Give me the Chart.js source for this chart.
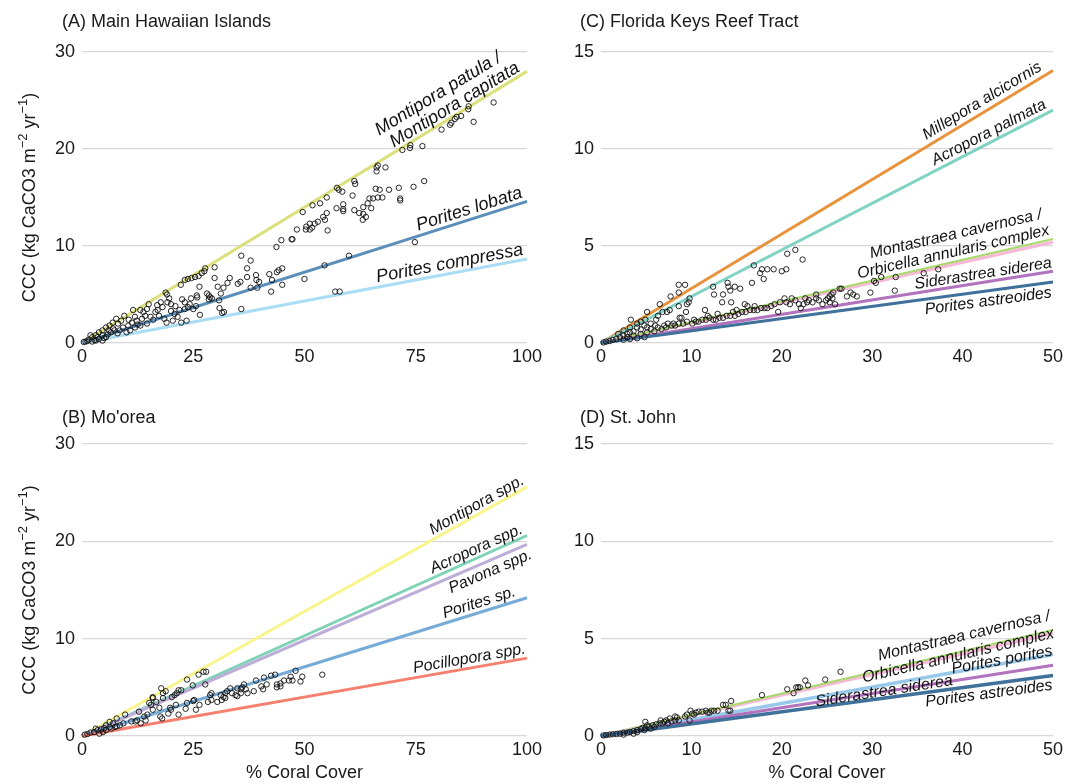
<!DOCTYPE html>
<html>
<head>
<meta charset="utf-8">
<script src="https://cdn.jsdelivr.net/npm/chart.js@4.4.1/dist/chart.umd.min.js"></script>
<style>
  html, body { margin: 0; padding: 0; background: #fff; }
  #wrap { position: relative; width: 1070px; height: 784px; background: #fff; }
  canvas { position: absolute; }
</style>
</head>
<body>
<div id="wrap">
  <canvas id="pA" width="545" height="392" style="left:0;top:0"></canvas>
  <canvas id="pC" width="525" height="392" style="left:545px;top:0"></canvas>
  <canvas id="pB" width="545" height="392" style="left:0;top:392px"></canvas>
  <canvas id="pD" width="525" height="392" style="left:545px;top:392px"></canvas>
</div>
<script>
// ---- data ----
// (A) Main Hawaiian Islands : % coral cover vs CCC
const mhiSpecies = ['Montipora patula / Montipora capitata', 'Porites lobata', 'Porites compressa'];
const mhiLineEnd = [28.0, 14.6, 8.65];   // CCC at 100 % cover
const mhiPoints = [
  [92.5,24.8],[88,22.8],[86.9,24.4],[86.8,24.1],[85.2,23.4],[84.2,23.3],[83.8,23.1],[83,22.7],[82.7,22.5],[80.8,22.0],
  [76.5,20.3],[76.9,16.7],[73.8,20.4],[73.7,20.1],[72,19.9],[74.5,16.1],[74.8,10.4],[71.2,16.0],[71.5,14.9],[71.5,14.7],
  [69,15.8],[68.2,18.1],[66.5,18.3],[66.2,18.1],[66.2,17.7],[66.9,15.8],[66,15.9],[67.5,15.0],[66.5,15.0],[65.4,14.9],
  [64.6,14.9],[65,13.9],[64.2,14.4],[63.2,14.0],[63.2,13.3],[63.8,13.0],[63.1,12.7],[62.3,13.4],[61.2,16.7],[61.4,16.4],
  [60.8,15.2],[61.2,13.7],[60,9.0],[57.7,15.8],[57.3,16.0],[58.5,15.6],[58.7,14.3],[58.7,13.8],[58.7,13.6],[57.2,13.9],
  [56.9,5.3],[57.9,5.3],[55,15.0],[55,13.4],[54.2,13.0],[54.6,12.7],[55.2,11.6],[54.5,8.0],[53.5,14.4],[51.8,14.2],
  [49.6,13.5],[53,12.5],[52.3,12.3],[51.2,12.3],[50.4,12.0],[51.2,11.7],[50.3,11.7],[51.7,11.9],[48.3,11.7],[47.3,10.7],
  [47.1,10.7],[44.8,10.6],[43.7,9.9],[50,6.6],[45,7.7],[44.2,7.5],[43.8,7.3],[45,6.0],[42.7,6.5],[42.5,5.3],
  [42.1,7.1],[37.9,8.5],[35.8,9.0],[37.1,7.7],[39.1,7.0],[39.8,6.3],[39.2,6.5],[37.1,6.8],[39.4,5.7],[37.9,5.7],
  [35,6.1],[35.6,6.3],[35.8,3.5],[33.2,6.7],[29.8,7.8],[29.8,6.7],[32.7,6.2],[31.8,5.7],[30.5,5.8],[31.2,5.1],
  [31.5,3.1],[31.9,3.2],[30.9,3.6],[30.8,4.4],[27.7,7.7],[27.5,7.4],[26.9,7.2],[26.2,6.9],[25.4,6.8],[24.6,6.7],
  [23.8,6.6],[23.1,6.5],[22.2,6.0],[26.4,5.8],[25.8,4.9],[25.9,4.7],[25.6,3.8],[26.5,2.9],[23.5,2.3],[22.3,2.1],
  [28.5,4.9],[28.8,4.7],[29.2,4.6],[28.1,5.1],[28.5,4.5],[18.8,5.2],[19.1,5.0],[19.6,4.6],[19.2,4.2],[20,4.0],
  [17.7,4.2],[16.9,3.9],[18.1,3.7],[16.5,3.2],[17.3,2.8],[18.5,2.5],[20.4,2.3],[21.5,2.7],[20.8,3.0],[21.9,3.4],
  [23.1,3.5],[24.2,4.0],[23.8,3.7],[23.1,4.2],[15,4.0],[14.6,3.5],[13.8,3.2],[13.1,3.4],[14.2,2.8],[15.4,2.7],
  [13.5,2.5],[12.3,2.3],[11.5,3.4],[11.9,2.7],[11.2,2.1],[10.4,1.8],[10,1.1],[10.8,1.3],[11.9,1.6],[13.1,1.8],
  [14.6,2.0],[9.2,1.6],[8.5,1.3],[8.1,2.0],[8.8,2.3],[7.7,2.5],[6.9,2.1],[6.2,1.8],[5.4,1.6],[4.6,1.3],
  [3.8,1.1],[3.1,0.8],[2.3,0.6],[1.5,0.35],[0.8,0.15],[0.4,0.1],[3.8,0.4],[4.6,0.8],[5.8,0.9],[6.5,1.1],
  [7.3,1.3],[3.1,0.25],[2.3,0.15],[1.9,0.8],[4.6,0.25],[5.4,0.6],[21,3.8],[22.5,4.5],[24.5,4.6],[25,3.5],
  [20,3.3],[17,3.4],[16,2.4],[19,2.1],[9.5,2.8],[10.5,2.4],[12.5,1.9],[7,1.5],[6,1.3],[8,1.0],
  [5,0.5],[2.8,0.3],[3.5,0.6],[1.2,0.2]
];

// (B) Mo'orea
const mooSpecies = ['Montipora spp.', 'Acropora spp.', 'Pavona spp.', 'Porites sp.', 'Pocillopora spp.'];
const mooLineEnd = [25.6, 20.6, 19.7, 14.2, 8.0];
const mooPoints = [
  [54,6.3],[48,6.7],[49.5,6.1],[49.1,5.6],[46.9,6.1],[47.3,5.7],[46.5,5.7],[45.4,5.7],[44.6,5.4],[43.8,5.3],
  [43.8,5.0],[44.6,5.1],[43.4,6.3],[42.5,6.2],[40.9,6.0],[39.1,5.7],[41.5,5.3],[40.7,4.8],[40.3,5.1],[38.6,4.6],
  [36.4,5.3],[36.0,5.0],[35.7,4.8],[36.8,4.8],[34.9,4.9],[37.2,4.4],[35.7,4.4],[34.9,4.1],[34.5,4.2],[33.7,4.4],
  [33.3,4.9],[32.6,4.6],[32.2,4.4],[31.8,4.0],[32.2,3.9],[31.4,3.7],[30.4,3.5],[29.1,3.7],[28.3,3.5],[28.8,4.2],
  [29.1,4.4],[31.2,4.2],[27.9,6.6],[27.3,6.6],[26.2,6.3],[27.7,5.3],[23.6,5.8],[24.9,5.2],[26.4,3.2],[25.6,2.7],
  [25.0,3.6],[25.2,3.7],[23.3,2.8],[23.6,3.4],[21.7,4.7],[22.3,4.7],[21.3,4.4],[20.8,4.2],[20.2,4.0],[21.1,3.2],
  [19.8,2.9],[20.0,2.7],[21.7,2.2],[19.4,2.3],[17.6,2.0],[18,1.8],[18.8,4.6],[18.2,4.4],[18.2,3.9],[15.9,4.0],
  [15.9,3.9],[16.7,3.5],[15.5,3.2],[15.9,2.7],[14.7,2.2],[14.3,1.6],[14,2.0],[12.8,2.5],[12.4,1.6],[13.2,1.3],
  [12.0,1.5],[11.1,1.5],[9.7,2.2],[9.3,1.3],[8.5,1.1],[7.8,1.8],[7.8,1.0],[7.0,1.3],[6.2,0.9],[5.4,1.1],
  [5.0,0.8],[4.3,0.7],[3.5,0.6],[2.7,0.4],[1.9,0.35],[1.2,0.2],[0.6,0.14],[5.4,0.6],[4.7,0.4],[3.9,0.24],
  [6.6,0.76],[7.4,0.93],[6.2,1.45],[3.1,0.76],[17.8,4.9],[15.1,3.4],[17.4,2.9]
];

// (C) Florida Keys Reef Tract
const flkSpecies = ['Millepora alcicornis', 'Acropora palmata', 'Orbicella annularis complex',
                    'Montastraea cavernosa', 'Siderastrea siderea', 'Porites astreoides'];
const flkLineEnd = [14.05, 12.0, 5.2, 5.36, 3.7, 3.15];   // CCC at 50 % cover
const flkPoints = [
  [37.3,3.8],[35.7,3.6],[32.6,3.4],[32.5,2.7],[31,3.4],[30.2,3.2],[30.4,3.1],[29.8,2.6],[28.3,2.4],[27.9,2.5],
  [27.6,2.6],[27.2,2.4],[26.6,2.8],[26.4,2.8],[25.7,2.6],[25.5,2.5],[25.3,2.4],[25.6,2.3],[25.1,2.3],[25.3,2.1],
  [25.9,2.0],[24.9,2.2],[24.5,2.0],[23.8,2.5],[23.8,2.3],[24.1,2.2],[23.4,2.1],[23,2.2],[22.6,2.3],[22.4,2.0],
  [21.9,2.0],[22.1,1.8],[21.5,2.2],[21.1,2.3],[20.5,2.1],[20.3,2.3],[20.9,2.0],[19.6,1.6],[19.2,2.0],[18.8,1.9],
  [18.4,1.8],[18.1,1.8],[17.7,1.8],[17.3,1.7],[16.9,1.7],[16.5,1.7],[16.2,1.9],[16,1.6],[15.6,1.6],[15.2,1.5],
  [14.8,1.4],[14.6,1.6],[14.3,1.4],[13.9,1.4],[13.5,1.3],[13.1,1.3],[12.7,1.2],[12.4,1.2],[12.0,1.3],[11.6,1.2],
  [11.2,1.2],[10.8,1.1],[10.5,1.1],[10.1,1.0],[9.5,1.1],[9.1,1.0],[8.6,1.0],[8.2,0.9],[7.8,0.9],[7.4,1.0],
  [7.2,0.8],[21.5,4.8],[20.6,4.6],[22.3,4.3],[20.5,3.8],[20.0,3.7],[19.1,3.8],[18.4,3.8],[17.8,3.8],[17.6,3.6],
  [18,3.3],[16.9,4.0],[16.7,3.1],[15.4,2.8],[14.8,2.9],[14.3,2.7],[14,3.1],[14.1,2.9],[13.5,2.5],[14.4,2.1],
  [13.4,2.1],[12.5,2.5],[12.4,2.9],[11.5,1.7],[15.9,2.0],[9.3,3.0],[8.6,3.0],[8.6,2.6],[7.7,2.4],[9.8,2.3],
  [9.7,2.1],[9.5,2.0],[8.6,1.9],[9.4,1.6],[8.9,1.3],[8.7,1.3],[6.5,2.0],[7.6,1.7],[7.3,1.6],[6.8,1.6],
  [6.3,1.4],[5.1,1.6],[6.1,1.2],[3.3,1.2],[5.5,1.0],[5.1,0.8],[4.8,0.9],[4.4,0.7],[4.0,0.8],[3.6,0.6],
  [3.2,0.55],[2.9,0.47],[2.5,0.38],[2.1,0.3],[1.7,0.2],[1.3,0.16],[0.95,0.1],[0.57,0.07],[0.27,0.03],[3.6,0.38],
  [4.4,0.47],[5.1,0.55],[5.9,0.6],[6.7,0.72],[4.8,0.3],[3.2,0.2],[4.0,0.24],[2.5,0.17],[2.9,0.3],[5.5,0.72],
  [6.3,0.8],[7.0,0.9],[4.0,1.0],[3.2,0.8],[2.5,0.65],[1.9,0.47],[4.4,1.1],[4.9,1.2],[11.8,1.4],[12.9,1.5],
  [15.0,1.7],[17.0,1.9],[19.8,2.1],[22.8,2.1],[10.3,1.2],[8.0,1.0],[6.0,0.9]
];

// (D) St. John
const stjSpecies = ['Orbicella annularis complex', 'Montastraea cavernosa', 'Porites porites',
                    'Siderastrea siderea', 'Porites astreoides'];
const stjLineEnd = [5.28, 5.45, 4.19, 3.63, 3.11];
const stjPoints = [
  [26.5,3.3],[24.8,2.9],[22.6,2.85],[22.9,2.6],[22.0,2.5],[21.8,2.5],[21.6,2.5],[21.3,2.2],[20.6,2.4],[17.8,2.1],
  [14.4,1.8],[13.8,1.6],[13.5,1.6],[14.3,1.3],[14.1,1.3],[12.9,1.3],[12.5,1.3],[12.2,1.3],[12.0,1.2],[11.8,1.2],
  [11.6,1.3],[11.2,1.25],[10.8,1.25],[10.5,1.2],[10.1,1.15],[9.9,1.3],[10.3,1.1],[9.8,0.8],[9.5,1.1],[9.3,1.0],
  [8.6,0.8],[8.4,0.95],[8.2,0.8],[7.8,0.75],[7.6,0.9],[7.4,0.65],[7.2,0.8],[7.0,0.73],[6.8,0.65],[6.5,0.65],
  [6.1,0.6],[5.7,0.55],[4.9,0.73],[5.3,0.47],[4.9,0.4],[4.6,0.42],[4.4,0.35],[4.0,0.3],[3.6,0.25],[3.2,0.2],
  [2.9,0.17],[2.5,0.17],[2.1,0.12],[1.7,0.1],[1.3,0.09],[0.95,0.07],[0.57,0.05],[0.27,0.03],[4.8,0.3],[4.0,0.2],
  [5.5,0.38],[5.9,0.47],[5.1,0.55],[3.6,0.12],[2.5,0.07],[6.6,0.8],[8.2,1.0]
];

// ---- styles ----
const mhiColors = ['#dbe07c', '#5b8fba', '#aadcf4'];
const mooColors = ['#f8f48e', '#7ed2b6', '#bcaed8', '#76abd8', '#f5806f'];
const flkColors = ['#e8933c', '#80d2c3', '#f6bad8', '#a7d96b', '#b272bd', '#3f719a'];
const stjColors = ['#f6bad8', '#a7d96b', '#98c9ea', '#b272bd', '#3f719a'];
const flkWidths = [3, 3, 3.5, 2, 3, 3];
const stjWidths = [3.5, 2, 3.5, 3, 3.5];

const FONT = '"Liberation Sans", Arial, Helvetica, sans-serif';

// text drawn on each panel: title, axis titles, species labels along lines
const panelText = {
  id: 'panelText',
  afterDraw(chart, args, o) {
    const ctx = chart.ctx;
    const xs = chart.scales.x, ys = chart.scales.y;
    const area = chart.chartArea;
    ctx.save();
    ctx.fillStyle = '#1a1a1a';
    ctx.font = '18px ' + FONT;
    ctx.textAlign = 'left';
    ctx.textBaseline = 'alphabetic';
    ctx.fillText(o.title, o.titleX, o.titleY);

    if (o.yTitle) {
      const segs = [['CCC (kg CaCO3 m', 0], ['\u22122', 1], [' yr', 0], ['\u22121', 1], [')', 0]];
      const fonts = ['18px ' + FONT, '13px ' + FONT];
      let w = 0;
      segs.forEach(s => { ctx.font = fonts[s[1]]; w += ctx.measureText(s[0]).width; });
      ctx.save();
      ctx.translate(35, (area.top + area.bottom) / 2);
      ctx.rotate(-Math.PI / 2);
      let x = -w / 2;
      segs.forEach(s => {
        ctx.font = fonts[s[1]];
        ctx.fillText(s[0], x, s[1] ? -8 : 0);
        x += ctx.measureText(s[0]).width;
      });
      ctx.restore();
    }
    if (o.xTitle) {
      ctx.font = '18px ' + FONT;
      ctx.textAlign = 'center';
      ctx.fillText('% Coral Cover', (area.left + area.right) / 2, o.xTitleY);
    }

    ctx.font = 'italic ' + o.labelSize + 'px ' + FONT;
    ctx.textAlign = 'right';
    ctx.fillStyle = '#111';
    o.labels.forEach(l => {
      const end = chart.data.datasets[l.line + 1].data[1];
      const x0 = xs.getPixelForValue(0), y0 = ys.getPixelForValue(0);
      const x1 = xs.getPixelForValue(end.x), y1 = ys.getPixelForValue(end.y);
      const ang = Math.atan2(y1 - y0, x1 - x0);
      const px = xs.getPixelForValue(l.at), py = ys.getPixelForValue(end.y * l.at / end.x);
      ctx.save();
      ctx.translate(px, py);
      ctx.rotate(ang);
      ctx.fillText(l.text, 0, -l.off);
      ctx.restore();
    });
    ctx.restore();
  }
};

function makePanel(id, cfg) {
  const lineSets = cfg.ends.map((v, i) => ({
    type: 'line',
    label: cfg.species[i],
    data: [{ x: 0, y: 0 }, { x: cfg.xMax, y: v }],
    borderColor: cfg.colors[i],
    borderWidth: cfg.widths ? cfg.widths[i] : 3,
    pointRadius: 0,
    fill: false,
    order: 100 - i,
    clip: false
  }));
  const pts = {
    type: 'scatter',
    label: 'sites',
    data: cfg.points.map(p => ({ x: p[0], y: p[1] })),
    pointRadius: 2.7,
    pointBorderWidth: 0.9,
    pointBorderColor: '#111',
    pointBackgroundColor: 'rgba(0,0,0,0)',
    order: 0,
    clip: false
  };
  new Chart(document.getElementById(id), {
    type: 'scatter',
    data: { datasets: [pts, ...lineSets] },
    options: {
      responsive: false,
      animation: false,
      layout: { padding: { top: cfg.top, right: cfg.right, left: 0, bottom: 0 } },
      plugins: {
        legend: { display: false },
        tooltip: { enabled: false },
        panelText: cfg.text
      },
      scales: {
        x: {
          type: 'linear', min: 0, max: cfg.xMax,
          ticks: { stepSize: cfg.xStep, color: '#1a1a1a', font: { family: FONT, size: 18 }, padding: 3, maxRotation: 0 },
          grid: { display: false, drawTicks: false },
          border: { display: false },
          afterFit: s => { s.height = cfg.xH; }
        },
        y: {
          type: 'linear', min: 0, max: cfg.yMax,
          ticks: { stepSize: cfg.yStep, color: '#1a1a1a', font: { family: FONT, size: 18 }, padding: 7 },
          grid: { color: '#d8d8d8', lineWidth: 1.3, drawTicks: false },
          border: { display: false },
          afterFit: s => { s.width = cfg.yW; }
        }
      }
    },
    plugins: [panelText]
  });
}

makePanel('pA', {
  species: mhiSpecies, ends: mhiLineEnd, colors: mhiColors, points: mhiPoints,
  xMax: 100, xStep: 25, yMax: 30, yStep: 10, top: 52, right: 17, yW: 82, xH: 49,
  text: {
    title: '(A) Main Hawaiian Islands', titleX: 62, titleY: 27, yTitle: true, xTitle: false, labelSize: 18,
    labels: [
      { text: 'Montipora patula /', line: 0, at: 97, off: 22 },
      { text: 'Montipora capitata', line: 0, at: 99, off: 4 },
      { text: 'Porites lobata', line: 1, at: 99.5, off: 5 },
      { text: 'Porites compressa', line: 2, at: 99.5, off: 5 }
    ]
  }
});

makePanel('pC', {
  species: flkSpecies, ends: flkLineEnd, colors: flkColors, widths: flkWidths, points: flkPoints,
  xMax: 50, xStep: 10, yMax: 15, yStep: 5, top: 52, right: 17, yW: 56, xH: 49,
  text: {
    title: '(C) Florida Keys Reef Tract', titleX: 35, titleY: 27, yTitle: false, xTitle: false, labelSize: 16,
    labels: [
      { text: 'Millepora alcicornis', line: 0, at: 49.2, off: 6 },
      { text: 'Acropora palmata', line: 1, at: 49.6, off: 5 },
      { text: 'Montastraea cavernosa /', line: 3, at: 49.4, off: 22 },
      { text: 'Orbicella annularis complex', line: 3, at: 49.8, off: 5 },
      { text: 'Siderastrea siderea', line: 4, at: 50, off: 4 },
      { text: 'Porites astreoides', line: 5, at: 49.7, off: -15 }
    ]
  }
});

makePanel('pB', {
  species: mooSpecies, ends: mooLineEnd, colors: mooColors, points: mooPoints,
  xMax: 100, xStep: 25, yMax: 30, yStep: 10, top: 52, right: 17, yW: 82, xH: 48,
  text: {
    title: "(B) Mo'orea", titleX: 62, titleY: 31, yTitle: true, xTitle: true, xTitleY: 386, labelSize: 16,
    labels: [
      { text: 'Montipora spp.', line: 0, at: 100, off: 4 },
      { text: 'Acropora spp.', line: 1, at: 99.6, off: 4 },
      { text: 'Pavona spp.', line: 2, at: 100, off: -15 },
      { text: 'Porites sp.', line: 3, at: 98, off: 5 },
      { text: 'Pocillopora spp.', line: 4, at: 100, off: 5 }
    ]
  }
});

makePanel('pD', {
  species: stjSpecies, ends: stjLineEnd, colors: stjColors, widths: stjWidths, points: stjPoints,
  xMax: 50, xStep: 10, yMax: 15, yStep: 5, top: 52, right: 17, yW: 56, xH: 48,
  text: {
    title: '(D) St. John', titleX: 35, titleY: 31, yTitle: false, xTitle: true, xTitleY: 386, labelSize: 16,
    labels: [
      { text: 'Montastraea cavernosa /', line: 1, at: 50, off: 10 },
      { text: 'Orbicella annularis complex', line: 1, at: 50, off: -8 },
      { text: 'Porites porites', line: 2, at: 50, off: -1 },
      { text: 'Siderastrea siderea', line: 3, at: 38.9, off: -4 },
      { text: 'Porites astreoides', line: 4, at: 49.8, off: -14 }
    ]
  }
});
</script>
</body>
</html>
